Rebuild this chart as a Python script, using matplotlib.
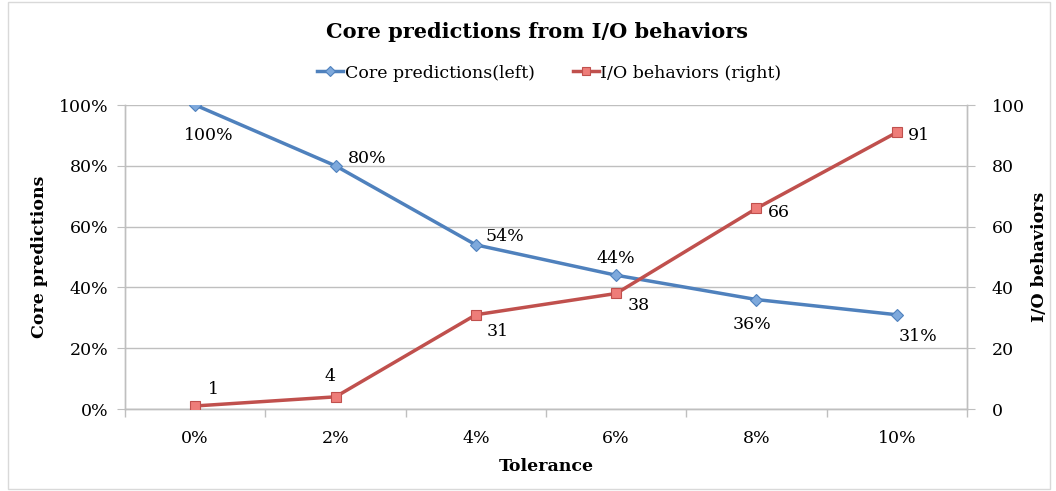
import matplotlib
matplotlib.use("Agg")
import matplotlib.pyplot as plt
from matplotlib.ticker import FuncFormatter, MultipleLocator
from matplotlib.patches import Rectangle

categories = ["0%", "2%", "4%", "6%", "8%", "10%"]
core_pred = [1.00, 0.80, 0.54, 0.44, 0.36, 0.31]
io_behaviors = [1, 4, 31, 38, 66, 91]
core_labels = ["100%", "80%", "54%", "44%", "36%", "31%"]
io_labels = ["1", "4", "31", "38", "66", "91"]

plt.rcParams['font.family'] = ['DejaVu Serif']
BLUE = "#4F81BD"
RED = "#C0504D"
GRID = "#BFBFBF"
FS = 12.5

fig = plt.figure(figsize=(10.56, 4.91), dpi=100)
ax = fig.add_axes([125/1056, 1-409/491, (967-125)/1056, (409-105)/491])
ax2 = ax.twinx()

x = list(range(len(categories)))
l1, = ax.plot(x, core_pred, color=BLUE, lw=2.5, marker="D", ms=6.3,
              mfc="#7EA9DC", mec=BLUE, mew=0.8, label="Core predictions(left)", zorder=3)
l2, = ax2.plot(x, io_behaviors, color=RED, lw=2.5, marker="s", ms=7.5,
               mfc="#EE7D79", mec=RED, mew=0.8, label="I/O behaviors (right)", zorder=3)

ax.set_xlim(-0.5, len(categories) - 0.5)
ax.set_ylim(0, 1.0)
ax2.set_ylim(0, 100)
ax.yaxis.set_major_locator(MultipleLocator(0.2))
ax2.yaxis.set_major_locator(MultipleLocator(20))
ax.yaxis.set_major_formatter(FuncFormatter(lambda v, p: f"{v*100:.0f}%"))
ax.set_xticks(x)
ax.set_xticklabels(categories)
ax.set_xticks([i - 0.5 for i in range(len(categories) + 1)], minor=True)

ax.grid(axis="y", color=GRID, lw=1)
ax.set_axisbelow(True)
for a in (ax, ax2):
    a.spines["top"].set_visible(False)
    for s in ("left", "right", "bottom"):
        a.spines[s].set_color(GRID)
        a.spines[s].set_linewidth(1)
ax.tick_params(axis="x", which="major", length=0, labelsize=FS, pad=15)
ax.tick_params(axis="x", which="minor", length=6, color=GRID, width=1)
ax.tick_params(axis="y", length=6, color=GRID, labelsize=FS, pad=6)
ax2.tick_params(axis="y", length=6, color=GRID, labelsize=FS, pad=12)

ax.set_xlabel("Tolerance", fontsize=FS, fontweight="bold", labelpad=8)
fig.text(40/1056, 1-257/491, "Core predictions", rotation=90, ha="center",
         va="center", fontsize=FS, fontweight="bold")
fig.text(1040/1056, 1-257/491, "I/O behaviors", rotation=90, ha="center",
         va="center", fontsize=FS, fontweight="bold")

core_off = [(10, -22), (9, 5), (7, 6), (0, 12), (-3, -18), (15, -16)]
core_ha = ["center", "left", "left", "center", "center", "center"]
for xi, yi, lab, off, ha in zip(x, core_pred, core_labels, core_off, core_ha):
    ax.annotate(lab, (xi, yi), xytext=off, textcoords="offset points",
                ha=ha, va="center", fontsize=FS)
io_off = [(9, 12), (-4, 15), (8, -12), (8, -9), (8, -3), (8, -2)]
io_ha = ["left", "center", "left", "left", "left", "left"]
for xi, yi, lab, off, ha in zip(x, io_behaviors, io_labels, io_off, io_ha):
    ax2.annotate(lab, (xi, yi), xytext=off, textcoords="offset points",
                 ha=ha, va="center", fontsize=FS)

fig.text(537/1056, 1-32/491, "Core predictions from I/O behaviors", ha="center",
         va="center", fontsize=15, fontweight="bold")
fig.legend(handles=[l1, l2], loc="center", bbox_to_anchor=(0.52, 1-73/491),
           ncol=2, frameon=False, fontsize=FS, handlelength=1.5,
           handletextpad=0.1, columnspacing=2.2, markerscale=0.8)

fig.patches.append(Rectangle((8/1056, 2/491), (1050-8)/1056, (489-2)/491,
                             transform=fig.transFigure, fill=False,
                             edgecolor="#D9D9D9", lw=1))
fig.savefig("out.png", dpi=100)
